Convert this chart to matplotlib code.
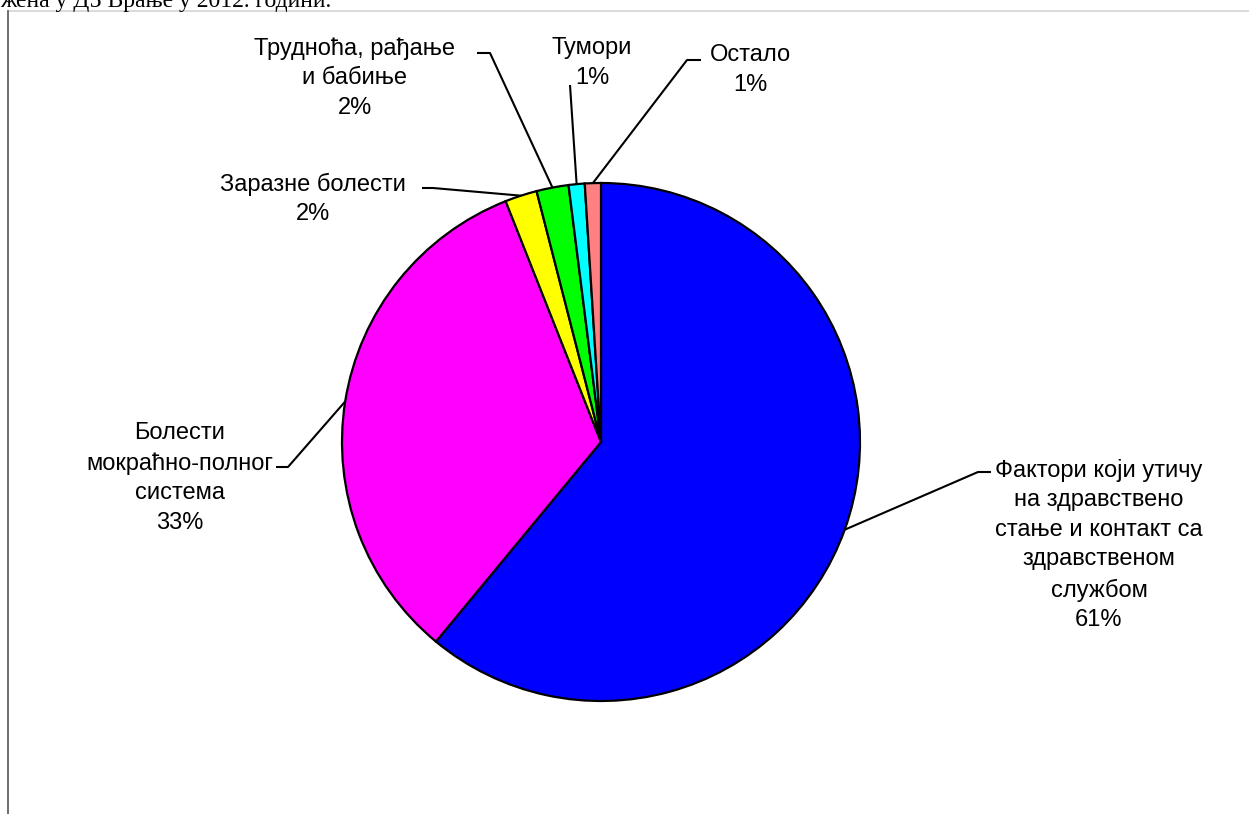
import numpy as np
import matplotlib
matplotlib.use("Agg")
import matplotlib.pyplot as plt
from matplotlib.lines import Line2D

# Structure of diagnoses (percent of visits)
categories = [
    "Фактори који утичу\nна здравствено\nстање и контакт са\nздравственом\nслужбом",
    "Болести\nмокраћно-полног\nсистема",
    "Заразне болести",
    "Трудноћа, рађање\nи бабиње",
    "Тумори",
    "Остало",
]
values = [61, 33, 2, 2, 1, 1]
colors = ["#0000FF", "#FF00FF", "#FFFF00", "#00FF00", "#00FFFF", "#FF8080"]

W, H = 1249, 814
fig = plt.figure(figsize=(W / 100, H / 100), dpi=100)
ax = fig.add_axes([0, 0, 1, 1])


def py(y):
    """Convert a top-down pixel row into axis units."""
    return H - y


cx, cy, R = 601, py(442), 259
wedges, _ = ax.pie(values, colors=colors, startangle=90, counterclock=False,
                   center=(cx, cy), radius=R, frame=True,
                   wedgeprops=dict(edgecolor="black", linewidth=1.6))
ax.set_xlim(0, W)
ax.set_ylim(0, H)
ax.axis("off")

font = dict(family="Liberation Sans", fontsize=17, color="black", linespacing=1.44)

# label layout: text centre and elbow points of the leader line
layout = [
    dict(x=1099, y=py(545), elbow=[(978, 472), (991, 472)]),
    dict(x=180, y=py(478), elbow=[(288, 467), (276, 467)]),
    dict(x=313, y=py(199), elbow=[(433, 188), (422, 188)]),
    dict(x=355, y=py(78), elbow=[(490, 53), (477, 53)]),
    dict(x=592, y=py(63), elbow=[(570, 85)]),
    dict(x=750, y=py(70), elbow=[(687, 60), (701, 60)]),
]

for w, cat, val, lay in zip(wedges, categories, values, layout):
    mid = np.deg2rad((w.theta1 + w.theta2) / 2)
    ax_x = cx + R * np.cos(mid)
    ax_y = cy + R * np.sin(mid)
    xs = [ax_x] + [p[0] for p in lay["elbow"]]
    ys = [ax_y] + [py(p[1]) for p in lay["elbow"]]
    ax.plot(xs, ys, color="black", lw=1.5, solid_capstyle="butt", zorder=1)
    ax.text(lay["x"], lay["y"], f"{cat}\n{val:.0f}%", ha="center",
            va="center", multialignment="center", **font)

# page frame and the caption line above it
ax.add_line(Line2D([8, W], [py(11), py(11)], color="#d4d4d4", lw=1.2))
ax.add_line(Line2D([8, 8], [py(11), 0], color="#555555", lw=1.2))
ax.text(0, py(7), "жена у ДЗ Врање у 2012. години.", family="Liberation Serif",
        fontsize=17, va="baseline", ha="left", color="black")

fig.savefig("out.png", dpi=100, facecolor="white")
